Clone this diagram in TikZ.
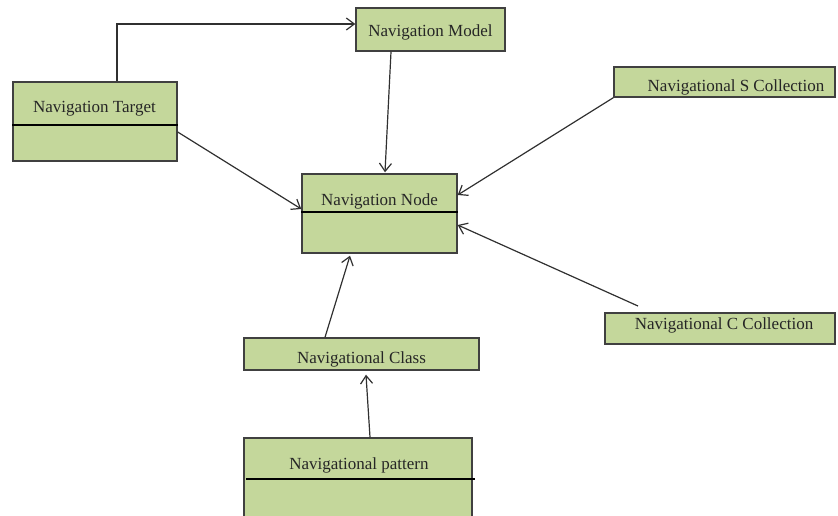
\documentclass[tikz,border=0pt]{standalone}
\usepackage{fontspec}
\setmainfont{Liberation Serif}
\usetikzlibrary{arrows.meta}
\definecolor{boxfill}{HTML}{C4D79B}
\definecolor{boxline}{HTML}{404040}
\definecolor{wire}{HTML}{303030}
\begin{document}
\begin{tikzpicture}[x=1pt,y=-1pt,
  umlbox/.style={draw=boxline, line width=1.4pt, fill=boxfill, rectangle, inner sep=0pt},
  lbl/.style={font=\fontsize{17}{20}\selectfont, text=black!85, inner sep=0pt, anchor=base},
  divider/.style={line width=2.4pt, draw=black},
  link/.style={draw=wire, line width=1.2pt, -{Straight Barb[length=8pt,width=12pt,line width=1.2pt]}}]
\useasboundingbox (0,0) rectangle (838,515);
\clip (0,0) rectangle (838,515);

% class boxes
\node[umlbox, minimum width=164pt, minimum height=79pt] (target) at (95,121.5) {};
\node[umlbox, minimum width=149pt, minimum height=43pt] (model) at (430.5,29.5) {};
\node[umlbox, minimum width=155pt, minimum height=79pt] (navnode) at (379.5,213.5) {};
\node[umlbox, minimum width=221pt, minimum height=30pt] (scoll) at (724.5,82) {};
\node[umlbox, minimum width=230pt, minimum height=31pt] (ccoll) at (720,328.5) {};
\node[umlbox, minimum width=235pt, minimum height=32pt] (nclass) at (361.5,354) {};
\node[umlbox, minimum width=228pt, minimum height=92pt] (pattern) at (358,484) {};

% compartment dividers
\draw[divider] (target.west |- 0,125) -- (target.east |- 0,125);
\draw[divider] (navnode.west |- 0,212) -- (navnode.east |- 0,212);
\draw[divider] (246,479) -- (475,479);

% class names
\node[lbl] (targetL) at (94.5,112.5) {Navigation Target};
\node[lbl] (modelL) at (430.5,36) {Navigation Model};
\node[lbl] (navnodeL) at (379.5,205) {Navigation Node};
\node[lbl] (scollL) at (736,91) {Navigational S Collection};
\node[lbl] (ccollL) at (724,329) {Navigational C Collection};
\node[lbl] (nclassL) at (361.5,363) {Navigational Class};
\node[lbl] (patternL) at (359,469) {Navigational pattern};

% associations
\coordinate (cstart) at (638,306);
\draw[link] ([xshift=22pt]target.north) |- ([yshift=5.5pt]model.west);
\draw[link] ([xshift=-39.5pt]model.south) -- ([xshift=5.5pt,yshift=1pt]navnode.north);
\draw[link] ([yshift=-10.5pt]target.east) -- ([yshift=4.5pt]navnode.west);
\draw[link] (scoll.south west) -- ([yshift=18.5pt]navnode.east);
\draw[link] (cstart) -- ([yshift=-11.5pt]navnode.east);
\draw[link] ([xshift=-36.5pt]nclass.north) -- ([xshift=-29.5pt,yshift=-2pt]navnode.south);
\draw[link] ([xshift=12pt]pattern.north) -- ([xshift=4.5pt,yshift=-4pt]nclass.south);
\end{tikzpicture}
\end{document}
